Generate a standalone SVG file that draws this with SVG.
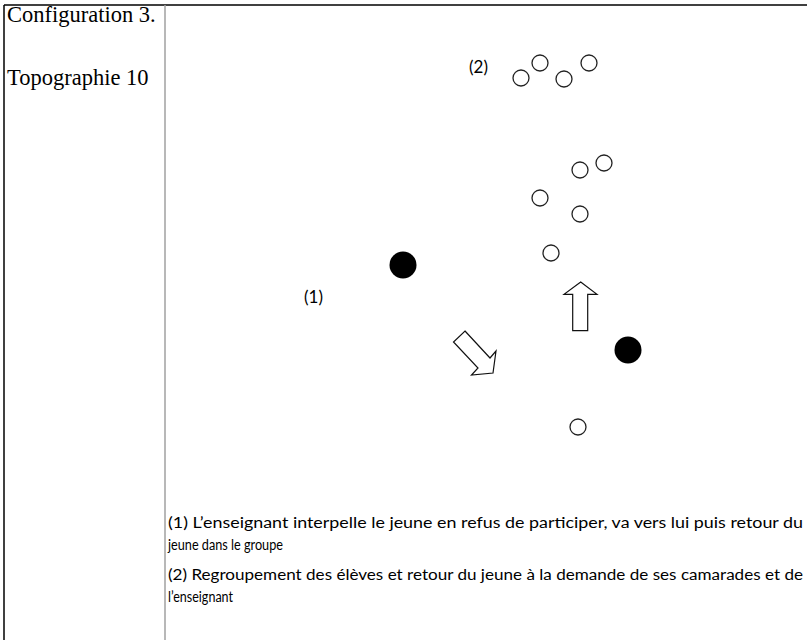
<svg xmlns="http://www.w3.org/2000/svg" width="807" height="640" viewBox="0 0 807 640">
<style>
.frame{stroke:#000;stroke-width:1.5;fill:none}
.div{stroke:#a0a0a0;stroke-width:1.5}
.tnr{font-family:"Liberation Serif","Times New Roman",serif;font-size:22.5px;fill:#000}
.cal{font-family:Lato,"Open Sans",sans-serif;font-size:14.5px;fill:#000}
.lbl{font-family:Lato,"Open Sans",sans-serif;font-size:17px;fill:#000}
.open{fill:#fff;stroke:#222;stroke-width:1.3}
.full{fill:#000}
.arrow{fill:#fff;stroke:#111;stroke-width:1.2;stroke-linejoin:miter}
</style>
<rect width="807" height="640" fill="#fff"/>
<g id="table">
<line class="frame" x1="4" y1="5" x2="807" y2="5"/>
<line class="frame" x1="4" y1="5" x2="4" y2="640"/>
<line class="div" x1="165" y1="5" x2="165" y2="640"/>
</g>
<g id="header">
<text class="tnr" x="7" y="22">Configuration 3.</text>
<text class="tnr" x="7" y="85">Topographie 10</text>
</g>
<g id="labels">
<text class="lbl" x="469" y="73">(2)</text>
<text class="lbl" x="304" y="303">(1)</text>
</g>
<g id="group2">
<circle class="open" cx="521" cy="78" r="8"/>
<circle class="open" cx="540" cy="63" r="8"/>
<circle class="open" cx="564" cy="79" r="8"/>
<circle class="open" cx="589" cy="63" r="8"/>
</g>
<g id="students">
<circle class="open" cx="580" cy="170" r="8"/>
<circle class="open" cx="604" cy="163" r="8"/>
<circle class="open" cx="540" cy="198" r="8"/>
<circle class="open" cx="580" cy="214" r="8"/>
<circle class="open" cx="551" cy="253" r="8"/>
<circle class="open" cx="578" cy="427" r="8"/>
</g>
<g id="teacher">
<circle class="full" cx="403" cy="265" r="13.5"/>
</g>
<g id="youth">
<circle class="full" cx="628" cy="350" r="13.5"/>
</g>
<g id="connectors">
<polygon class="arrow" points="580.7,282 597,294.3 587.7,294.3 587.7,330.7 572.7,330.7 572.7,294.3 564,294.3"/>
<polygon class="arrow" points="465,331 490,358 496,351 493,373 471.5,375 478,368 453.5,342"/>
</g>
<g id="legend">
<text class="cal" x="168" y="528" textLength="635" lengthAdjust="spacingAndGlyphs">(1) L’enseignant interpelle le jeune en refus de participer, va vers lui puis retour du</text>
<text class="cal" x="168" y="550" textLength="115" lengthAdjust="spacingAndGlyphs">jeune dans le groupe</text>
<text class="cal" x="168" y="580" textLength="635" lengthAdjust="spacingAndGlyphs">(2) Regroupement des élèves et retour du jeune à la demande de ses camarades et de</text>
<text class="cal" x="168" y="602" textLength="65" lengthAdjust="spacingAndGlyphs">l’enseignant</text>
</g>
</svg>
